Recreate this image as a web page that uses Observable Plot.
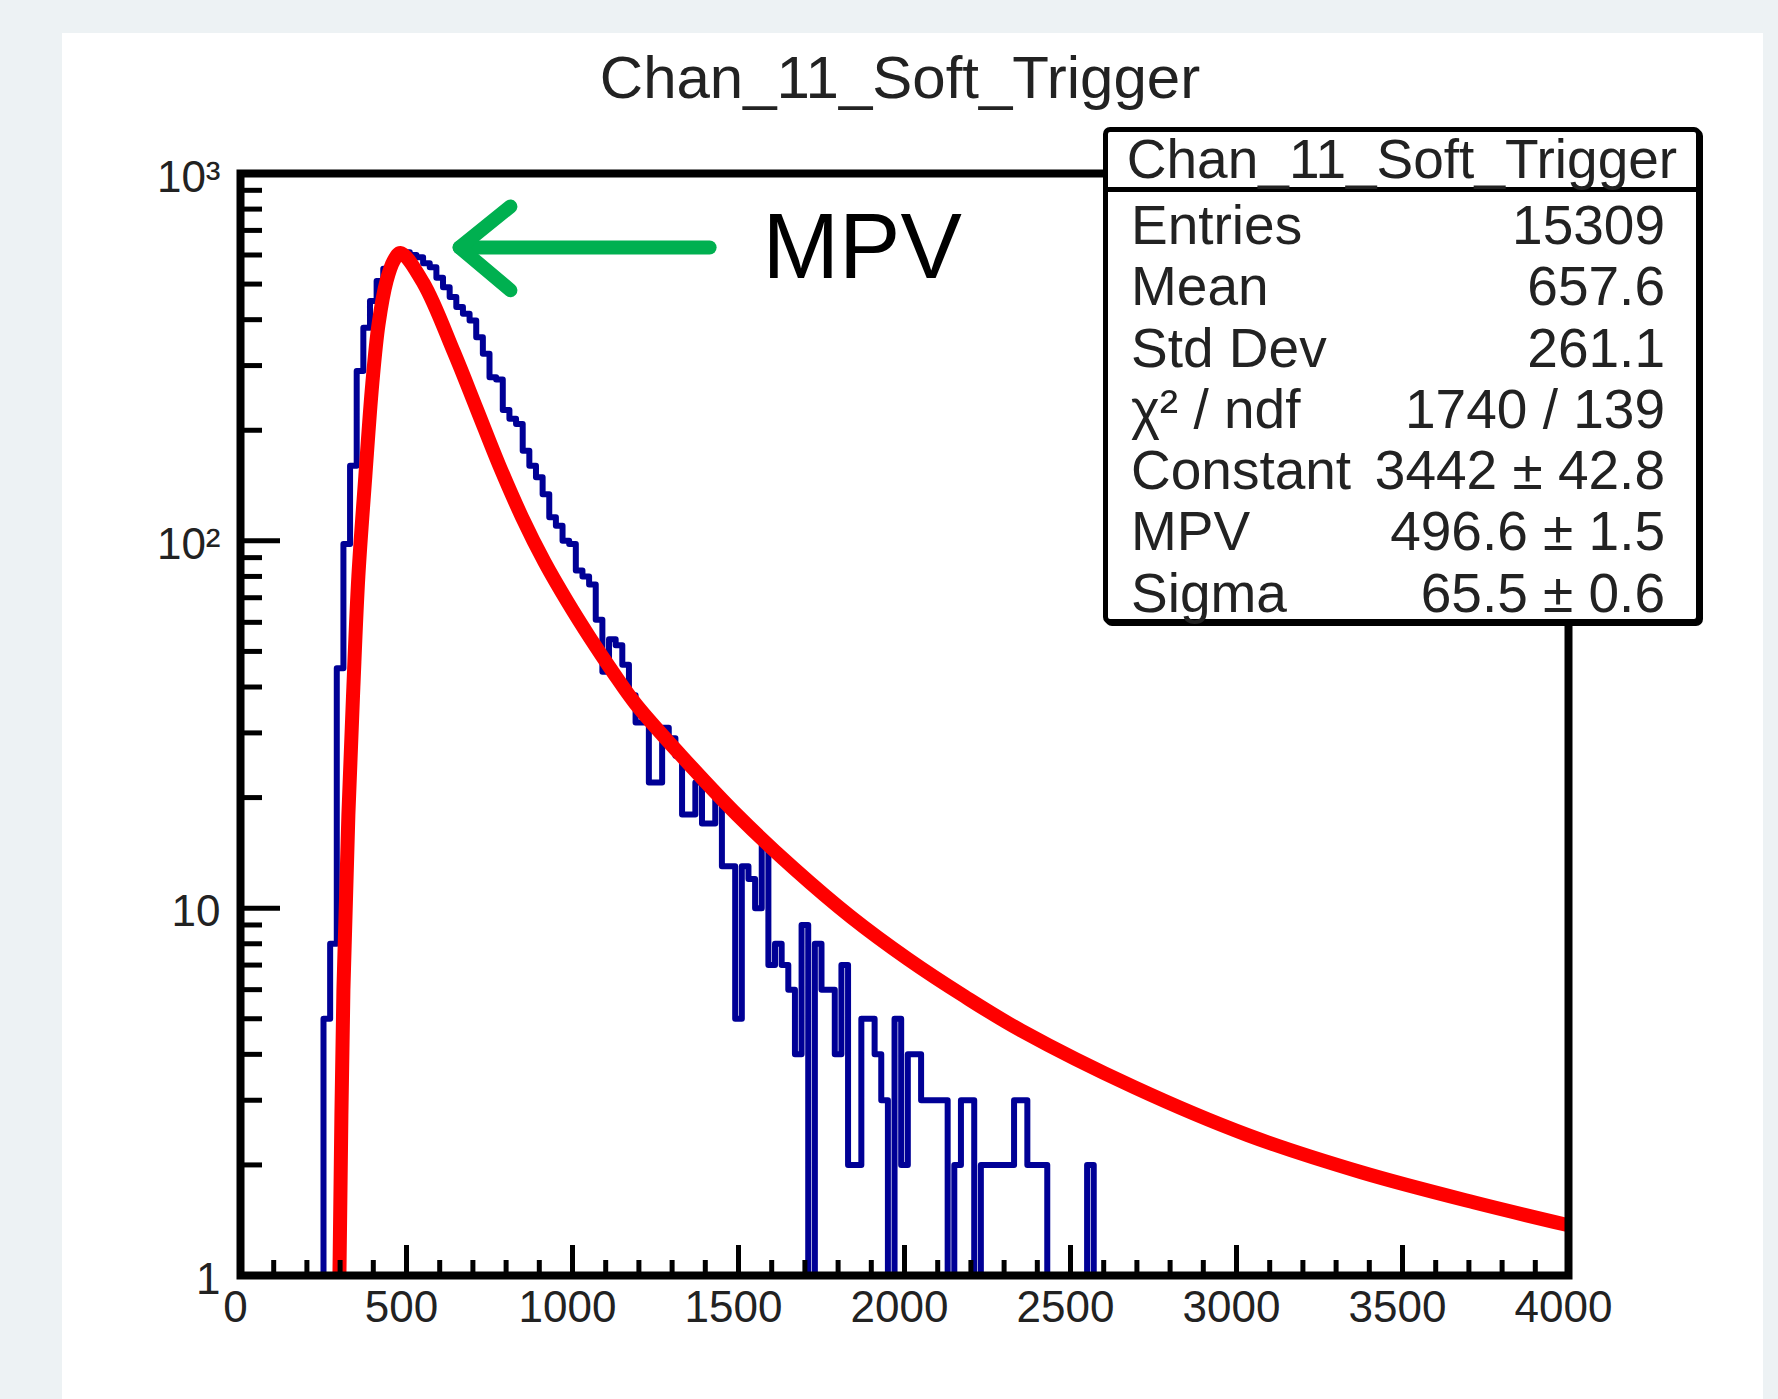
<!DOCTYPE html>
<html>
<head>
<meta charset="utf-8">
<script src="https://cdn.jsdelivr.net/npm/d3@7"></script>
<script src="https://cdn.jsdelivr.net/npm/@observablehq/plot@0.6"></script>
<style>
  html, body { margin: 0; padding: 0; }
  body {
    width: 1778px; height: 1399px; position: relative; overflow: hidden;
    background: #edf2f4;
    font-family: "Liberation Sans", Arial, Helvetica, sans-serif;
    color: #1a1a1a;
  }
  #panel { position: absolute; left: 62px; top: 33px; width: 1701px; height: 1366px; background: #ffffff; }
  #title {
    position: absolute; left: 0; top: 48px; width: 1800px; text-align: center;
    font-size: 60px; line-height: 60px; color: #222;
  }
  #chart { position: absolute; left: 0; top: 133px; }
  #stats {
    position: absolute; left: 1103px; top: 127px; width: 598px; height: 497px;
    box-sizing: border-box; border: 5px solid #000; border-radius: 7px;
    background: #fff; overflow: visible; box-shadow: 2px 2px 0 #000;
  }
  #stats .head {
    height: 55px; line-height: 55px; text-align: center; font-size: 55px;
    border-bottom: 5px solid #000; color: #222; white-space: nowrap;
  }
  #stats .rows { padding: 3px 31px 0 23px; }
  #stats .row {
    display: flex; justify-content: space-between; height: 61.3px; line-height: 61.3px;
    font-size: 55px; color: #222; white-space: nowrap;
  }
</style>
</head>
<body>
<div id="panel"></div>
<div id="title"></div>
<div id="chart"></div>
<div id="stats"><div class="head"></div><div class="rows"></div></div>
<script>
// ---------------- data ----------------
const titleText = "Chan_11_Soft_Trigger";

// histogram: first bin starts at binStart, bins of binWidth, counts
const binStart = 230;
const binWidth = 20;
const counts = [0, 5, 8, 45, 98, 160, 290, 380, 450, 510, 550, 580, 600, 610, 600, 592, 570, 556, 520, 490,
  461, 433, 415, 398, 358, 323, 279, 275, 227, 215, 208, 176, 160, 149, 134, 116, 110, 100, 98, 83,
  80, 76, 61, 44, 54, 52, 46, 38, 32, 32, 22, 22, 31, 29, 26, 18, 18, 22, 17, 17,
  20, 13, 13, 5, 13, 12, 10, 15, 7, 8, 7, 6, 4, 9, 0, 8, 6, 6, 4, 7,
  2, 2, 5, 5, 4, 3, 0, 5, 2, 4, 4, 3, 3, 3, 3, 0, 2, 3, 3, 0,
  2, 2, 2, 2, 2, 3, 3, 2, 2, 2, 0, 0, 0, 0, 0, 0, 2, 0];

// Landau fit curve
const fitX = [298, 310, 325, 340, 355, 376, 397, 416, 440, 462, 482, 551, 643, 712, 780, 848, 916, 985, 1053, 1122, 1190, 1326, 1497, 1668, 1839, 2010, 2181, 2352, 2693, 3034, 3376, 3717, 4000];
const fitY = [1, 6, 18, 40, 80, 150, 268, 390, 510, 580, 608, 503, 326, 228, 160, 116, 87.5, 68.2, 54.4, 43.9, 36, 26.1, 17.9, 12.8, 9.46, 7.27, 5.75, 4.64, 3.25, 2.41, 1.91, 1.58, 1.37];

// axes
const xTicks = [0, 500, 1000, 1500, 2000, 2500, 3000, 3500, 4000];
const xTickLabels = ["0", "500", "1000", "1500", "2000", "2500", "3000", "3500", "4000"];
const yTicks = [1, 10, 100, 1000];
const yTickLabels = ["1", "10", "10\u00B2", "10\u00B3"];

// statistics box
const statLabels = ["Entries", "Mean", "Std Dev", "\u03C7\u00B2 / ndf", "Constant", "MPV", "Sigma"];
const statValues = ["15309", "657.6", "261.1", "1740 / 139", "3442 \u00B1 42.8", "496.6 \u00B1 1.5", "65.5 \u00B1 0.6"];

// MPV annotation (data coordinates)
const arrowX = [1413, 660, 813, 660, 813];
const arrowY = [629, 629, 813, 629, 481];
const arrowPart = ["shaft", "shaft", "head", "head", "head"];
const mpvLabel = {x: 1572, y: 625, text: "MPV"};

// ---------------- build ----------------
const hist = counts.map((c, i) => ({x: binStart + i * binWidth, y: c}));
hist.push({x: binStart + counts.length * binWidth, y: counts[counts.length - 1]});
const fit = fitX.map((x, i) => ({x, y: fitY[i]}));
const arrow = arrowX.map((x, i) => ({x, y: arrowY[i], part: arrowPart[i]}));
const xLab = new Map(xTicks.map((t, i) => [t, xTickLabels[i]]));
const yLab = new Map(yTicks.map((t, i) => [t, yTickLabels[i]]));
const xMinor = d3.range(0, 4001, 100).filter(v => v % 500 !== 0);
const yMinor = [];
for (const dec of [1, 10, 100]) for (let k = 2; k <= 9; k++) yMinor.push(k * dec);

const W = 1778, H = 1266, mL = 240, mR = 210, mT = 40, mB = 124;
const fw = W - mL - mR, fh = H - mT - mB;

const chart = Plot.plot({
  width: W, height: H,
  marginLeft: mL, marginRight: mR, marginTop: mT, marginBottom: mB,
  style: {background: "transparent", fontFamily: "'Liberation Sans', Arial, sans-serif", color: "#222", overflow: "visible"},
  x: {domain: [0, 4000]},
  y: {type: "log", domain: [1, 1000]},
  marks: [
    Plot.line(hist, {x: "x", y: d => (d.y > 0 ? d.y : 0.5), curve: "step-after", stroke: "#000096", strokeWidth: 6, clip: true}),
    Plot.line(fit, {x: "x", y: "y", curve: "catmull-rom", stroke: "#ff0000", strokeWidth: 14, clip: true}),
    Plot.tickX(xMinor, {x: d => d, insetTop: fh - 15, stroke: "#000", strokeWidth: 5}),
    Plot.tickX(xTicks, {x: d => d, insetTop: fh - 30, stroke: "#000", strokeWidth: 5}),
    Plot.tickY(yMinor, {y: d => d, insetRight: fw - 22, stroke: "#000", strokeWidth: 5}),
    Plot.tickY(yTicks, {y: d => d, insetRight: fw - 40, stroke: "#000", strokeWidth: 5}),
    Plot.frame({stroke: "#000", strokeWidth: 8}),
    Plot.axisX(xTicks, {tickSize: 0, tickPadding: 15, dx: -5, fontSize: 44, tickFormat: d => xLab.get(d), label: null}),
    Plot.axisY(yTicks, {tickSize: 0, tickPadding: 20, dy: 4, fontSize: 44, tickFormat: d => yLab.get(d), label: null}),
    Plot.line(arrow, {x: "x", y: "y", z: "part", stroke: "#00b050", strokeWidth: 14, strokeLinecap: "round", strokeLinejoin: "round"}),
    Plot.text([mpvLabel], {x: "x", y: "y", text: "text", textAnchor: "start", lineAnchor: "middle", fontSize: 92, fill: "#000"})
  ]
});
document.getElementById("chart").appendChild(chart);

document.getElementById("title").textContent = titleText;
document.querySelector("#stats .head").textContent = titleText;
const rows = document.querySelector("#stats .rows");
statLabels.forEach((l, i) => {
  const r = document.createElement("div");
  r.className = "row";
  const a = document.createElement("span"); a.textContent = l;
  const b = document.createElement("span"); b.textContent = statValues[i];
  r.appendChild(a); r.appendChild(b);
  rows.appendChild(r);
});
</script>
</body>
</html>
